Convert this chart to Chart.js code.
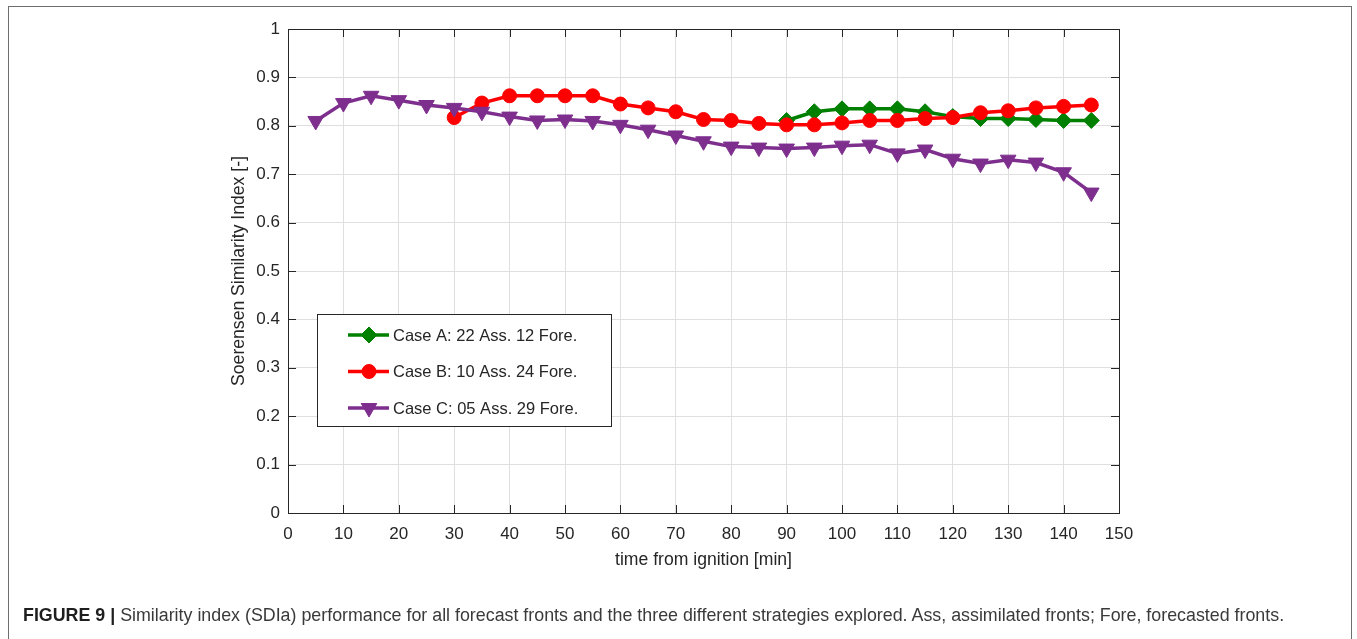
<!DOCTYPE html>
<html>
<head>
<meta charset="utf-8">
<script src="https://cdn.jsdelivr.net/npm/chart.js@4/dist/chart.umd.min.js"></script>
<style>
  body { margin: 0; background: #fff; width: 1357px; height: 639px; overflow: hidden; position: relative; }
  #frame { position: absolute; left: 8px; top: 6px; width: 1344px; height: 700px; border: 1.5px solid #6e6e6e; box-sizing: border-box; }
  #wrap { position: absolute; left: 0; top: 0; width: 1357px; height: 639px; }
  #caption { position: absolute; left: 23px; top: 605px; white-space: nowrap; font-family: "Liberation Sans", Arial, sans-serif; font-size: 16px; color: #3a3a3a; }
  #caption b { color: #1e1e1e; }
</style>
</head>
<body>
<div id="frame"></div>
<div id="wrap"><canvas id="myChart" width="1357" height="639"></canvas></div>
<div id="caption"><b>FIGURE 9 |</b> Similarity index (SDIa) performance for all forecast fronts and the three different strategies explored. Ass, assimilated fronts; Fore, forecasted fronts.</div>
<script>
// time from ignition [min]
var timeA = [90, 95, 100, 105, 110, 115, 120, 125, 130, 135, 140, 145];
var timeB = [30, 35, 40, 45, 50, 55, 60, 65, 70, 75, 80, 85, 90, 95, 100, 105, 110, 115, 120, 125, 130, 135, 140, 145];
var timeC = [5, 10, 15, 20, 25, 30, 35, 40, 45, 50, 55, 60, 65, 70, 75, 80, 85, 90, 95, 100, 105, 110, 115, 120, 125, 130, 135, 140, 145];

// Soerensen similarity index
var sdiA = [0.811, 0.829, 0.835, 0.835, 0.835, 0.829, 0.819, 0.815, 0.815, 0.813, 0.811, 0.811];
var sdiB = [0.817, 0.847, 0.862, 0.862, 0.862, 0.862, 0.845, 0.837, 0.829, 0.813, 0.811, 0.805,
            0.802, 0.802, 0.806, 0.811, 0.811, 0.815, 0.817, 0.827, 0.831, 0.837, 0.840, 0.843];
var sdiC = [0.810, 0.847, 0.862, 0.853, 0.843, 0.837, 0.829, 0.819, 0.811, 0.813, 0.810, 0.802,
            0.792, 0.780, 0.768, 0.757, 0.755, 0.753, 0.755, 0.759, 0.761, 0.743, 0.751, 0.732,
            0.722, 0.730, 0.724, 0.704, 0.662];

var seriesNames = ["Case A: 22 Ass. 12 Fore.", "Case B: 10 Ass. 24 Fore.", "Case C: 05 Ass. 29 Fore."];
var xTicks = [0, 10, 20, 30, 40, 50, 60, 70, 80, 90, 100, 110, 120, 130, 140, 150];
var yTicks = [0, 0.1, 0.2, 0.3, 0.4, 0.5, 0.6, 0.7, 0.8, 0.9, 1];

var FONT = '"Liberation Sans", Arial, sans-serif';
var TXT = "#262626";

function pts(xs, ys) {
  return xs.map(function (x, i) { return { x: x, y: ys[i] }; });
}

var styles = [
  { color: "#008000", point: "rectRot", radius: 8, rotation: 0 },
  { color: "#ff0000", point: "circle", radius: 7, rotation: 0 },
  { color: "#7e2f8e", point: "triangle", radius: 9, rotation: 180 }
];

function mkSet(i, xs, ys, order) {
  var s = styles[i];
  return {
    label: seriesNames[i],
    data: pts(xs, ys),
    borderColor: s.color,
    backgroundColor: s.color,
    borderWidth: 3.5,
    pointStyle: s.point,
    pointRadius: s.radius,
    pointRotation: s.rotation,
    pointBorderWidth: 1,
    pointBackgroundColor: s.color,
    pointBorderColor: s.color,
    order: order
  };
}

// axes box with inward ticks, and the boxed legend
var boxPlugin = {
  id: "box",
  afterDraw: function (chart) {
    var ctx = chart.ctx, a = chart.chartArea;
    var xs = chart.scales.x, ys = chart.scales.y;
    ctx.save();
    ctx.strokeStyle = TXT;
    ctx.lineWidth = 1;
    ctx.beginPath();
    xTicks.forEach(function (t) {
      var px = Math.round(xs.getPixelForValue(t)) + 0.5;
      ctx.moveTo(px, a.bottom); ctx.lineTo(px, a.bottom - 8);
      ctx.moveTo(px, a.top); ctx.lineTo(px, a.top + 8);
    });
    yTicks.forEach(function (t) {
      var py = Math.round(ys.getPixelForValue(t)) + 0.5;
      ctx.moveTo(a.left, py); ctx.lineTo(a.left + 8, py);
      ctx.moveTo(a.right, py); ctx.lineTo(a.right - 8, py);
    });
    ctx.stroke();
    ctx.strokeRect(Math.round(a.left) + 0.5, Math.round(a.top) + 0.5, Math.round(a.right - a.left), Math.round(a.bottom - a.top));

    // legend
    var lx = 317, ly = 314, lw = 294, lh = 112;
    ctx.fillStyle = "#fff";
    ctx.fillRect(lx, ly, lw, lh);
    ctx.strokeRect(lx + 0.5, ly + 0.5, lw, lh);
    ctx.font = "16.5px " + FONT;
    ctx.textBaseline = "middle";
    ctx.textAlign = "left";
    [0, 1, 2].forEach(function (i) {
      var s = styles[i];
      var cy = 335 + i * 36.5;
      ctx.strokeStyle = s.color;
      ctx.lineWidth = 3.5;
      ctx.beginPath();
      ctx.moveTo(348, cy); ctx.lineTo(389, cy);
      ctx.stroke();
      ctx.fillStyle = s.color;
      ctx.strokeStyle = s.color;
      ctx.lineWidth = 1;
      Chart.helpers.drawPoint(ctx, { pointStyle: s.point, radius: s.radius, rotation: s.rotation, borderWidth: 1 }, 369, cy);
      ctx.fillStyle = TXT;
      ctx.fillText(seriesNames[i], 393, cy + 1);
    });
    ctx.restore();
  }
};

new Chart(document.getElementById("myChart"), {
  type: "line",
  data: {
    datasets: [
      mkSet(0, timeA, sdiA, 2),
      mkSet(1, timeB, sdiB, 1),
      mkSet(2, timeC, sdiC, 0)
    ]
  },
  options: {
    responsive: false,
    animation: false,
    layout: { padding: { left: 225, top: 29, right: 238, bottom: 64 } },
    plugins: { legend: { display: false }, tooltip: { enabled: false } },
    scales: {
      x: {
        type: "linear",
        min: 0, max: 150,
        afterBuildTicks: function (s) { s.ticks = xTicks.map(function (v) { return { value: v }; }); },
        afterFit: function (s) { s.height = 62; },
        ticks: { padding: 11, color: TXT, font: { family: FONT, size: 17 }, callback: function (v) { return String(v); } },
        grid: { color: "#dfdfdf", drawTicks: false },
        border: { display: false },
        title: { display: true, text: "time from ignition [min]", color: TXT, font: { family: FONT, size: 17.6 } }
      },
      y: {
        type: "linear",
        min: 0, max: 1,
        afterBuildTicks: function (s) { s.ticks = yTicks.map(function (v) { return { value: v }; }); },
        afterFit: function (s) { s.width = 63; },
        ticks: { padding: 8, color: TXT, font: { family: FONT, size: 17 }, callback: function (v) { return String(v); } },
        grid: { color: "#dfdfdf", drawTicks: false },
        border: { display: false },
        title: { display: true, text: "Soerensen Similarity Index [-]", color: TXT, font: { family: FONT, size: 17.6 } }
      }
    }
  },
  plugins: [boxPlugin]
});

// stretch the caption to the figure width
var cap = document.getElementById("caption");
var w = cap.getBoundingClientRect().width;
cap.style.fontSize = (16 * 1262 / w).toFixed(2) + "px";
</script>
</body>
</html>
